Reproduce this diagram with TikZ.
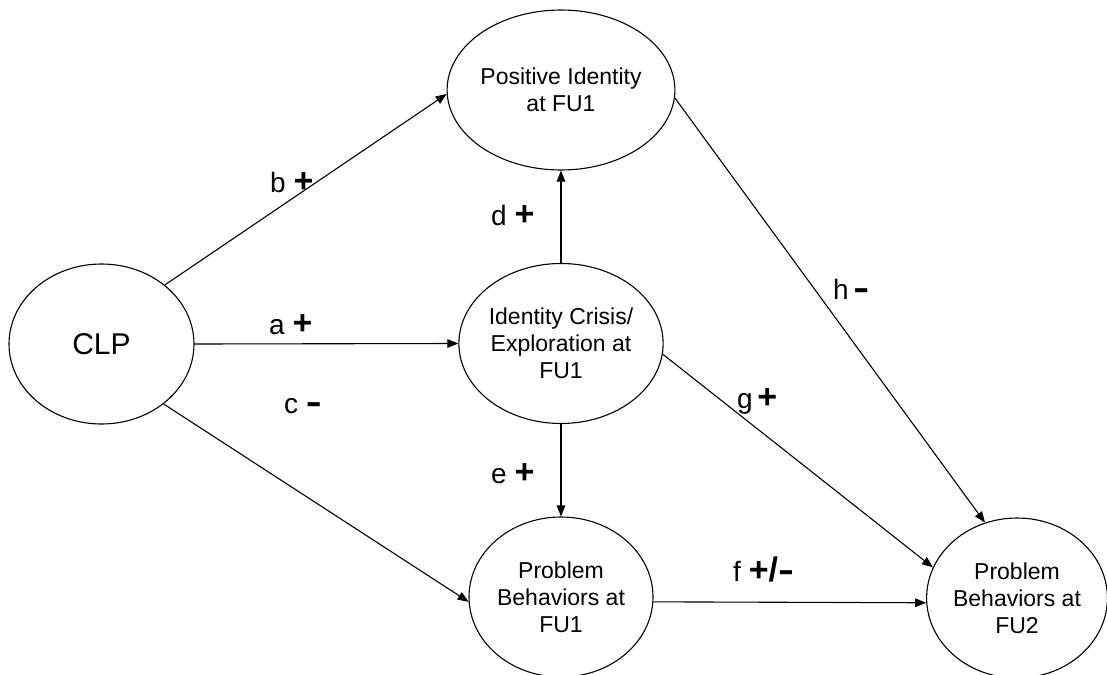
\documentclass[tikz,border=0pt]{standalone}
\usepackage{fontspec}
\usepackage{graphicx}
\setmainfont{Liberation Sans}
\usetikzlibrary{shapes.geometric,arrows.meta}
\newcommand\symb[1]{{\fontsize{34}{34}\selectfont\bfseries #1}}
\newcommand\mns{{\fontsize{34}{34}\selectfont\bfseries\scalebox{1.4}[1]{-}}}
\begin{document}
\begin{tikzpicture}[x=1pt,y=-1pt,
  ell/.style={ellipse,draw,line width=1.1pt,inner sep=0pt,minimum width=184pt,minimum height=160pt,align=center,font=\fontsize{23}{27}\selectfont},
  conn/.style={line width=1.1pt,-{Triangle[length=11pt,width=8.5pt]}},
  lab/.style={anchor=base west,inner sep=0pt,font=\fontsize{28}{30}\selectfont},
]
\useasboundingbox[fill=white] (0,0) rectangle (1107,674);
\node[ell,minimum width=185pt,font=\fontsize{30}{34}\selectfont] (CLP) at (101.5,344) {CLP};
\node[ell] (PI) at (561,90) {Positive Identity\\at FU1};
\node[ell] (IC) at (561,343.5) {Identity Crisis/\\Exploration at\\FU1};
\node[ell] (PB1) at (561,597) {Problem\\Behaviors at\\FU1};
\node[ell,minimum width=178pt] (PB2) at (1017,598) {Problem\\Behaviors at\\FU2};

\draw[conn] (CLP.43) -- (PI.182);
\draw[conn] (CLP.east) -- (IC.west);
\draw[conn] (CLP.-44) -- (PB1.183);
\draw[conn] (IC.north) -- (PI.south);
\draw[conn] (IC.south) -- (PB1.north);
\draw[conn] (PB1.-3) -- (PB2.183);
\draw[conn] (IC.-6) -- (PB2.160);
\draw[conn] (PI.-4) -- (PB2.113);

\node[lab] (lb) at (270,192) {b \symb{+}};
\node[lab] (la) at (269,334) {a \symb{+}};
\node[lab] (lc) at (284,413) {c \mns};
\node[lab] (ld) at (491,225) {d \symb{+}};
\node[lab] (le) at (491,483) {e \symb{+}};
\node[lab] (lg) at (737,408) {g\,\symb{+}};
\node[lab] (lh) at (833,299) {h\,\mns};
\node[lab] (lf) at (733,581) {f \symb{+/}\mns};
\end{tikzpicture}
\end{document}
